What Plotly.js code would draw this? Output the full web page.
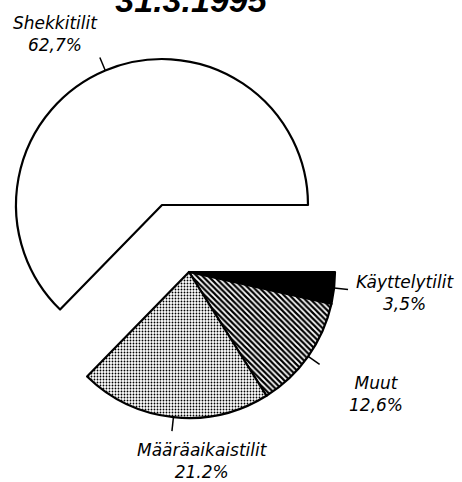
<!DOCTYPE html>
<html>
<head>
<meta charset="utf-8">
<script src="https://cdn.plot.ly/plotly-3.0.1.min.js"></script>
<style>html,body{margin:0;padding:0;background:#fff;}#chart{width:462px;height:482px;}</style>
</head>
<body>
<div id="chart"></div>
<script>
// Data (clockwise from 3 o'clock)
const categories = ["Käyttelytilit", "Muut", "Määräaikaistilit", "Shekkitilit"];
const values = [3.5, 12.6, 21.2, 62.7];
const percentLabels = ["3,5%", "12,6%", "21.2%", "62,7%"];
const titleText = "31.3.1995";

const W = 462, H = 482;
const R = 146;
const bigCenter = [162, 205];    // exploded slice centre (px)
const restCenter = [189, 272];   // remaining slices centre (px)
const explodedIndex = 3;

function domainFor(c) {
  return {
    x: [(c[0] - R) / W, (c[0] + R) / W],
    y: [(H - c[1] - R) / H, (H - c[1] + R) / H]
  };
}

const fills = ["#000000", "#ffffff", "#ffffff", "#ffffff"];
const patShapes = ["", "\\", ".", ""];
const T = "rgba(0,0,0,0)";

function makeTrace(showIdx, center) {
  return {
    type: "pie",
    values: values,
    labels: categories,
    sort: false,
    direction: "clockwise",
    rotation: 90,
    textinfo: "none",
    hoverinfo: "label+percent",
    showlegend: false,
    domain: domainFor(center),
    marker: {
      colors: values.map((v, i) => showIdx(i) ? fills[i] : T),
      line: {
        color: "#000",
        width: values.map((v, i) => showIdx(i) ? 2.2 : 0)
      },
      pattern: {
        shape: values.map((v, i) => showIdx(i) ? patShapes[i] : ""),
        fgcolor: "#000",
        bgcolor: values.map((v, i) => showIdx(i) ? "#ffffff" : T),
        size: [4, 4, 3, 4],
        solidity: [0.3, 0.55, 0.3, 0.3]
      }
    }
  };
}

const traces = [
  makeTrace(i => i === explodedIndex, bigCenter),
  makeTrace(i => i !== explodedIndex, restCenter)
];

// leader ticks computed from the data
const total = values.reduce((a, b) => a + b, 0);
const shapes = [];
let cum = 0;
values.forEach((v, i) => {
  const mid = -((cum + v / 2) / total) * 2 * Math.PI;
  cum += v;
  const c = i === explodedIndex ? bigCenter : restCenter;
  const x0 = c[0] + R * Math.cos(mid), y0 = c[1] - R * Math.sin(mid);
  const x1 = c[0] + (R + 14) * Math.cos(mid), y1 = c[1] - (R + 14) * Math.sin(mid);
  shapes.push({
    type: "line", xref: "paper", yref: "paper",
    x0: x0 / W, y0: 1 - y0 / H, x1: x1 / W, y1: 1 - y1 / H,
    line: {color: "#000", width: 1.5}
  });
});

const labelPos = [
  [405, 293],  // Käyttelytilit
  [376, 394],  // Muut
  [202, 461],  // Määräaikaistilit
  [55, 34]     // Shekkitilit
];
const lblFont = {family: "DejaVu Sans", size: 17, color: "#000"};
const annotations = categories.map((c, i) => ({
  xref: "paper", yref: "paper",
  x: labelPos[i][0] / W, y: 1 - labelPos[i][1] / H,
  xanchor: "center", yanchor: "middle",
  text: "<i>" + c + "<br>" + percentLabels[i] + "</i>",
  showarrow: false, align: "center",
  font: lblFont
}));

const layout = {
  width: W, height: H,
  margin: {l: 0, r: 0, t: 0, b: 0},
  paper_bgcolor: "#fff",
  title: {
    text: "<b><i>" + titleText + "</i></b>",
    x: 191 / W, xanchor: "center",
    y: 1 + 15 / H, yref: "container", yanchor: "middle",
    font: {family: "Liberation Sans", size: 34, color: "#000"}
  },
  shapes: shapes,
  annotations: annotations
};

Plotly.newPlot("chart", traces, layout, {displayModeBar: false, staticPlot: true});
</script>
</body>
</html>
